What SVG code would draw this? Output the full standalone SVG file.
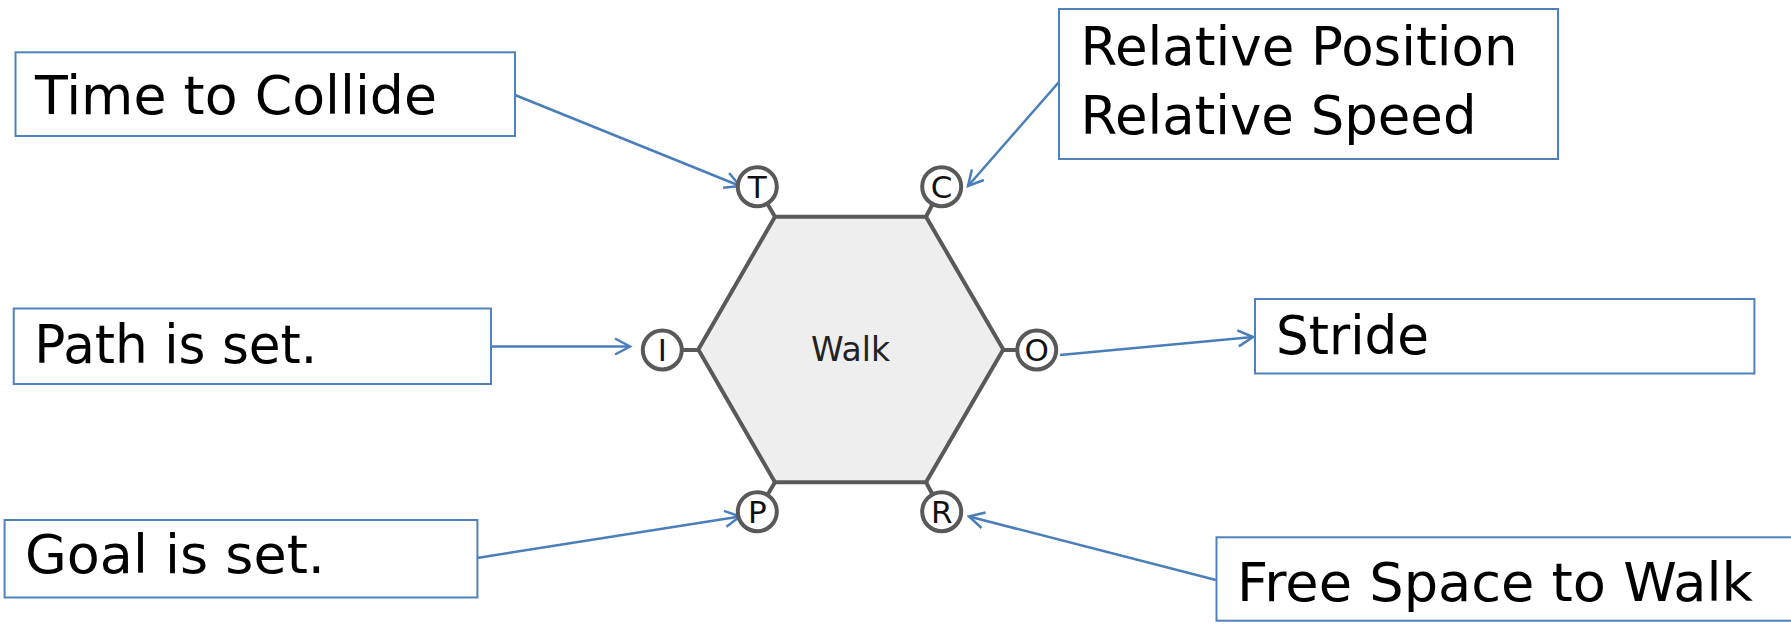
<svg xmlns="http://www.w3.org/2000/svg" width="1791" height="624" viewBox="0 0 1791 624">
<style>
.box{fill:#ffffff;stroke:#4f81bd;stroke-width:2}
.lbl{font-family:"DejaVu Sans","Noto Sans",sans-serif;font-size:53px;fill:#000000}
.hex{fill:#eeeeee;stroke:#595959;stroke-width:4;stroke-linejoin:miter}
.port{fill:#ffffff;stroke:#595959;stroke-width:4}
.stub{stroke:#595959;stroke-width:4}
.pl{font-family:"DejaVu Sans","Noto Sans",sans-serif;font-size:31px;fill:#111111;text-anchor:middle}
.conn{stroke:#4a7ebb;stroke-width:2.5;fill:none;marker-end:url(#arr)}
</style>
<defs>
<marker id="arr" markerUnits="userSpaceOnUse" markerWidth="30" markerHeight="30" viewBox="-20 -15 30 30" refX="0" refY="0" orient="auto" overflow="visible">
<path d="M-15,-8 L0,0 L-15,8" fill="none" stroke="#4a7ebb" stroke-width="2.5"/>
</marker>
</defs>

<g id="connectors">
<line class="conn" x1="515" y1="95" x2="740" y2="186"/>
<line class="conn" x1="1059" y1="82" x2="968" y2="186"/>
<line class="conn" x1="491" y1="346.5" x2="630" y2="346.5"/>
<line class="conn" x1="477" y1="558" x2="740" y2="516.5"/>
<line class="conn" x1="1060" y1="355" x2="1253" y2="337"/>
<line class="conn" x1="1216" y1="580" x2="969" y2="516.5"/>
</g>

<g id="walk">
<line class="stub" x1="757.3" y1="186.7" x2="775" y2="216.7"/>
<line class="stub" x1="941.7" y1="186.7" x2="926" y2="216.7"/>
<line class="stub" x1="662.3" y1="350" x2="698.3" y2="350"/>
<line class="stub" x1="1036.7" y1="350" x2="1003.3" y2="350"/>
<line class="stub" x1="757.3" y1="511.7" x2="775" y2="482.3"/>
<line class="stub" x1="941.7" y1="511.7" x2="926" y2="482.3"/>
<polygon class="hex" points="775,216.7 926,216.7 1003.3,349.5 926,482.3 775,482.3 698.3,349.5"/>
<text x="850.5" y="360.5" font-family="DejaVu Sans, sans-serif" font-size="33" fill="#222222" text-anchor="middle">Walk</text>
</g>

<g id="port-T"><circle class="port" cx="757.3" cy="186.7" r="19.5"/><text class="pl" x="757.3" y="198">T</text></g>
<g id="port-C"><circle class="port" cx="941.7" cy="186.7" r="19.5"/><text class="pl" x="941.7" y="198">C</text></g>
<g id="port-I"><circle class="port" cx="662.3" cy="350" r="19.5"/><text class="pl" x="662.3" y="361.3">I</text></g>
<g id="port-O"><circle class="port" cx="1036.7" cy="350" r="19.5"/><text class="pl" x="1036.7" y="361.3">O</text></g>
<g id="port-P"><circle class="port" cx="757.3" cy="511.7" r="19.5"/><text class="pl" x="757.3" y="523">P</text></g>
<g id="port-R"><circle class="port" cx="941.7" cy="511.7" r="19.5"/><text class="pl" x="941.7" y="523">R</text></g>

<g id="time-to-collide"><rect class="box" x="15.5" y="52.3" width="499.5" height="83.7"/><text class="lbl" x="35" y="114" textLength="402" lengthAdjust="spacingAndGlyphs">Time to Collide</text></g>
<g id="relative"><rect class="box" x="1059" y="9" width="499" height="150"/><text class="lbl" x="1080.5" y="65" textLength="437" lengthAdjust="spacingAndGlyphs">Relative Position</text><text class="lbl" x="1080.5" y="134" textLength="396" lengthAdjust="spacingAndGlyphs">Relative Speed</text></g>
<g id="path-is-set"><rect class="box" x="13.7" y="308.5" width="477.3" height="75.5"/><text class="lbl" x="34.3" y="363" textLength="283" lengthAdjust="spacingAndGlyphs">Path is set.</text></g>
<g id="goal-is-set"><rect class="box" x="4.6" y="520" width="472.8" height="77.5"/><text class="lbl" x="25" y="573" textLength="300" lengthAdjust="spacingAndGlyphs">Goal is set.</text></g>
<g id="stride"><rect class="box" x="1255" y="299" width="499.4" height="74.5"/><text class="lbl" x="1276" y="354" textLength="153" lengthAdjust="spacingAndGlyphs">Stride</text></g>
<g id="free-space"><rect class="box" x="1216.5" y="537.3" width="600" height="83.4"/><text class="lbl" x="1237" y="600.7" textLength="516" lengthAdjust="spacingAndGlyphs">Free Space to Walk</text></g>
</svg>
